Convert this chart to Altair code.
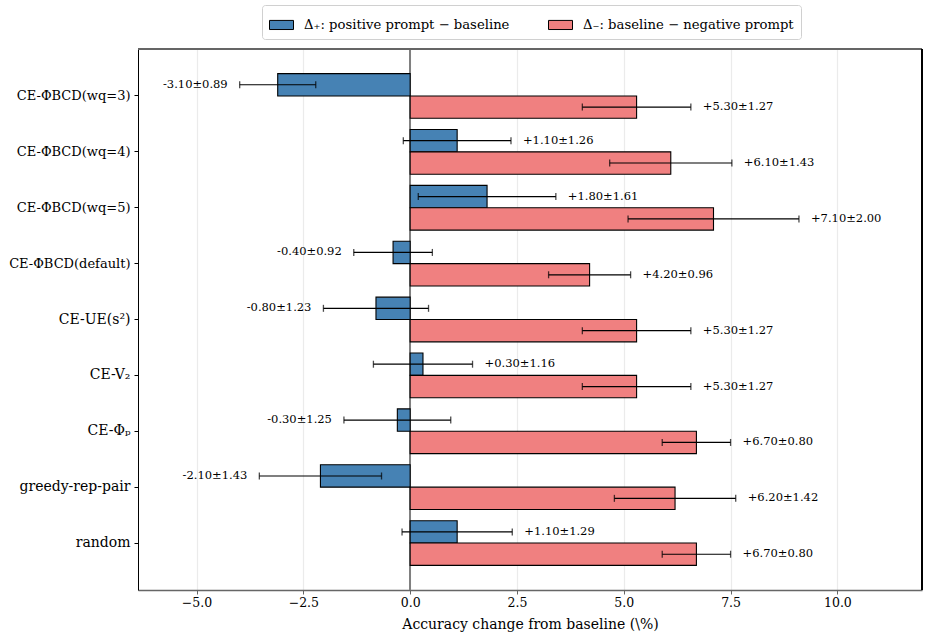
import altair as alt
import pandas as pd

categories = [
    "CE-ΦBCD(wq=3)",
    "CE-ΦBCD(wq=4)",
    "CE-ΦBCD(wq=5)",
    "CE-ΦBCD(default)",
    "CE-UE(s²)",
    "CE-V₂",
    "CE-Φₚ",
    "greedy-rep-pair",
    "random",
]
pos_vals = [-3.10, 1.10, 1.80, -0.40, -0.80, 0.30, -0.30, -2.10, 1.10]
pos_errs = [0.89, 1.26, 1.61, 0.92, 1.23, 1.16, 1.25, 1.43, 1.29]
neg_vals = [5.30, 6.10, 7.10, 4.20, 5.30, 5.30, 6.70, 6.20, 6.70]
neg_errs = [1.27, 1.43, 2.00, 0.96, 1.27, 1.27, 0.80, 1.42, 0.80]
series_names = ["Δ₊: positive prompt − baseline", "Δ₋: baseline − negative prompt"]
series_colors = ["#4682B4", "#F08080"]
x_ticks = [-5.0, -2.5, 0.0, 2.5, 5.0, 7.5, 10.0]

rows = []
for c, v, e in zip(categories, pos_vals, pos_errs):
    rows.append((c, series_names[0], v, e))
for c, v, e in zip(categories, neg_vals, neg_errs):
    rows.append((c, series_names[1], v, e))
df = pd.DataFrame(rows, columns=["cat", "series", "val", "err"])
df["lo"] = df["val"] - df["err"]
df["hi"] = df["val"] + df["err"]
df["label"] = [f"{v:+.2f}±{e:.2f}" for v, e in zip(df["val"], df["err"])]

FONT = "DejaVu Serif"
W, H = 784, 541

yenc = alt.Y(
    "cat:N",
    sort=categories,
    scale=alt.Scale(paddingInner=0.2, paddingOuter=0.44),
    axis=alt.Axis(title=None, labelFont=FONT,
                  labelFontSize=alt.ExprRef("indexof(datum.label, 'BCD') >= 0 ? 13 : 14"),
                  labelColor="black",
                  tickColor="black", tickSize=4, domainColor="black", labelPadding=4,
                  labelLimit=300, grid=False),
)
yoff = alt.YOffset("series:N", sort=series_names, scale=alt.Scale(domain=series_names))
xscale = alt.Scale(domain=[-6.37, 11.98], nice=False, zero=False)

base = alt.Chart(df)

zero = base.mark_rule(color="#808080", strokeWidth=1.2).encode(x=alt.datum(0, scale=xscale))

bars = base.mark_bar(stroke="black", strokeWidth=1.1).encode(
    x=alt.X("val:Q", scale=xscale,
            axis=alt.Axis(values=x_ticks, format=".1f", title="Accuracy change from baseline (\\%)",
                          titleFont=FONT, titleFontSize=14, titleFontWeight="normal", titleColor="black",
                          labelFont=FONT, labelFontSize=12.5, labelColor="black", tickColor="#666",
                          domainColor="#666", domainWidth=1.5, tickSize=4, grid=True,
                          gridColor="#ebebeb", gridWidth=1.2, titlePadding=9)),
    x2=alt.datum(0),
    y=yenc,
    yOffset=yoff,
    color=alt.Color("series:N", sort=series_names,
                    scale=alt.Scale(domain=series_names, range=series_colors),
                    legend=alt.Legend(title=None, orient="none", legendX=124, legendY=-44,
                                      direction="horizontal", columns=2, columnPadding=36,
                                      labelFont=FONT, labelFontSize=13.2, labelColor="black",
                                      symbolType="M-1,-0.38H1V0.38H-1Z", symbolSize=576,
                                      symbolStrokeColor="black", symbolStrokeWidth=1,
                                      symbolOpacity=1, labelLimit=400, padding=7,
                                      strokeColor="#d0d0d0", cornerRadius=3, fillColor="white",
                                      symbolOffset=0, labelOffset=10)),
)

err_line = base.mark_rule(color="black", strokeWidth=1.2).encode(
    x="lo:Q", x2="hi:Q", y=alt.Y("cat:N", sort=categories), yOffset=yoff
)
cap_lo = base.mark_tick(color="black", thickness=1.3, size=7, orient="vertical").encode(
    x="lo:Q", y=alt.Y("cat:N", sort=categories), yOffset=yoff
)
cap_hi = base.mark_tick(color="black", thickness=1.3, size=7, orient="vertical").encode(
    x="hi:Q", y=alt.Y("cat:N", sort=categories), yOffset=yoff
)

txt_pos = base.transform_filter("datum.val >= 0").mark_text(
    align="left", baseline="middle", dx=12, font=FONT, fontSize=11.5, color="black"
).encode(x="hi:Q", y=alt.Y("cat:N", sort=categories), yOffset=yoff, text="label:N")
txt_neg = base.transform_filter("datum.val < 0").mark_text(
    align="right", baseline="middle", dx=-12, font=FONT, fontSize=11.5, color="black"
).encode(x="lo:Q", y=alt.Y("cat:N", sort=categories), yOffset=yoff, text="label:N")

frame_top = alt.Chart(df).mark_rule(color="#666", strokeWidth=1.5).encode(
    x=alt.value(0), x2=alt.value(W), y=alt.value(0)
)
frame_right = alt.Chart(df).mark_rule(color="black", strokeWidth=1.2).encode(
    x=alt.value(W), y=alt.value(0), y2=alt.value(H)
)

chart = alt.layer(zero, bars, err_line, cap_lo, cap_hi, txt_pos, txt_neg, frame_top, frame_right).properties(
    width=W, height=H,
    autosize=alt.AutoSizeParams(type="none"),
    padding={"left": 138, "top": 49, "right": 8, "bottom": 48},
).configure_view(stroke=None).configure(background="white")

chart.save("out.html", embed_options={"renderer": "svg", "actions": False})
